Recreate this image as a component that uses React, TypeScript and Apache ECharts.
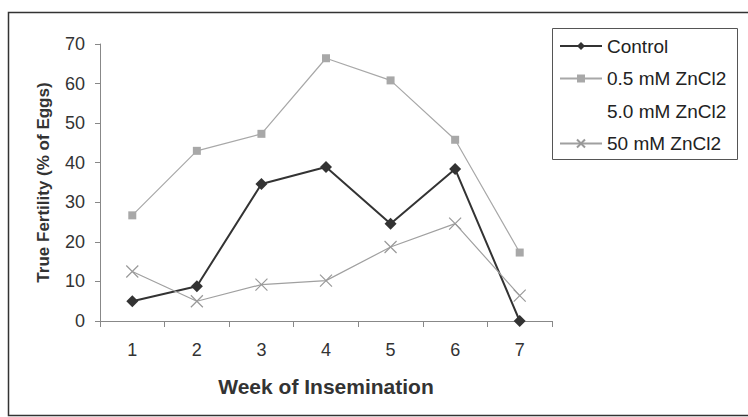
import React, { useEffect, useRef } from "react";
import * as echarts from "echarts";

const weeks = ["1", "2", "3", "4", "5", "6", "7"];
const control = [5.0, 8.8, 34.6, 38.9, 24.6, 38.4, 0];
const zn05 = [26.7, 43.0, 47.3, 66.4, 60.8, 45.8, 17.3];
const zn50: (number | null)[] = [];
const zn500 = [12.5, 5.0, 9.2, 10.2, 18.7, 24.6, 6.4];
const seriesNames = ["Control", "0.5 mM ZnCl2", "5.0 mM ZnCl2", "50 mM ZnCl2"];

const FONT = "Liberation Sans, Arial, sans-serif";
const XSYM = "path://M0,0L10,10M10,0L0,10";

export default function App() {
  const ref = useRef<HTMLDivElement>(null);
  useEffect(() => {
    if (!ref.current) return;
    const chart = echarts.init(ref.current, null, { renderer: "svg" });
    chart.setOption({
      animation: false,
      backgroundColor: "#fff",
      textStyle: { fontFamily: FONT },
      grid: { left: 100, top: 44, right: 196, bottom: 96 },
      xAxis: {
        type: "category",
        data: weeks,
        boundaryGap: true,
        name: "Week of Insemination",
        nameLocation: "middle",
        nameGap: 55,
        nameTextStyle: { fontSize: 21, fontWeight: "bold", color: "#333", fontFamily: FONT },
        axisLine: { lineStyle: { color: "#888", width: 1 } },
        axisTick: { show: true, alignWithLabel: false, length: 6, lineStyle: { color: "#888" } },
        axisLabel: { fontSize: 18, color: "#333", margin: 20, fontFamily: FONT },
        splitLine: { show: false },
      },
      yAxis: {
        type: "value",
        min: 0,
        max: 70,
        interval: 10,
        name: "True Fertility (% of Eggs)",
        nameLocation: "middle",
        nameGap: 48,
        nameTextStyle: { fontSize: 17, fontWeight: "bold", color: "#333", fontFamily: FONT },
        axisLine: { show: true, lineStyle: { color: "#888", width: 1 } },
        axisTick: { show: true, length: 5, lineStyle: { color: "#888" } },
        axisLabel: { fontSize: 18, color: "#333", margin: 15, fontFamily: FONT },
        splitLine: { show: false },
      },
      legend: {
        orient: "vertical",
        left: 554,
        top: 30,
        itemGap: 10.5,
        itemWidth: 42,
        itemHeight: 10,
        textStyle: { fontSize: 19, lineHeight: 22, color: "#222", fontFamily: FONT },
        data: seriesNames,
      },
      graphic: [
        {
          type: "polyline",
          shape: { points: [[760, 12.5], [8.5, 12.5], [8.5, 415.5], [760, 415.5]] },
          style: { fill: "none", stroke: "#333", lineWidth: 1.5 },
          silent: true,
        },
        {
          type: "rect",
          shape: { x: 552.5, y: 28.5, width: 185, height: 131 },
          style: { fill: "none", stroke: "#555", lineWidth: 1 },
          silent: true,
        },
      ],
      series: [
        {
          name: seriesNames[0],
          type: "line",
          data: control,
          symbol: "diamond",
          symbolSize: 12,
          lineStyle: { color: "#333", width: 2 },
          itemStyle: { color: "#333" },
        },
        {
          name: seriesNames[1],
          type: "line",
          data: zn05,
          symbol: "rect",
          symbolSize: 8,
          lineStyle: { color: "#a8a8a8", width: 1.2 },
          itemStyle: { color: "#a8a8a8" },
        },
        {
          name: seriesNames[2],
          type: "line",
          data: zn50,
          symbol: "none",
          lineStyle: { color: "rgba(0,0,0,0)", width: 0 },
          itemStyle: { color: "rgba(0,0,0,0)" },
        },
        {
          name: seriesNames[3],
          type: "line",
          data: zn500,
          symbol: XSYM,
          symbolSize: 12,
          lineStyle: { color: "#a0a0a0", width: 1.2 },
          itemStyle: { color: "none", borderColor: "#999", borderWidth: 1.2 },
        },
      ],
    });
    return () => chart.dispose();
  }, []);
  return (
    <div
      ref={ref}
      style={{ position: "absolute", left: 0, top: 0, width: 748, height: 417 }}
    />
  );
}
